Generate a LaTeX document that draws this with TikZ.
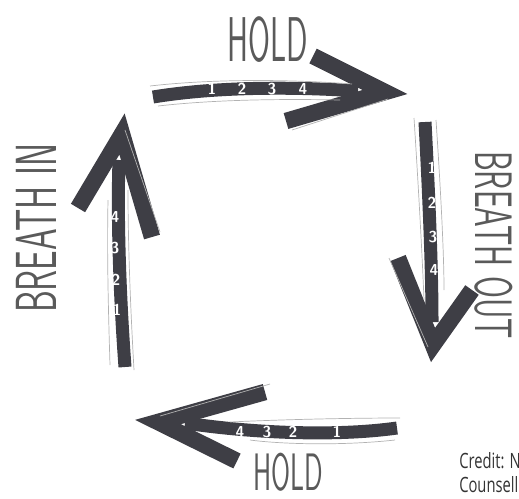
\documentclass[tikz,border=0pt]{standalone}
\usepackage{fontspec}
\newfontfamily\creditfont{Open Sans}
\usetikzlibrary{calc}
\definecolor{inkGray}{HTML}{3E3E45}
\definecolor{letterGray}{HTML}{5A5A5A}
\begin{document}
\begin{tikzpicture}[
    x=0.02cm, y=-0.02cm,
    stroke/.style={draw=inkGray, line width=0.26cm, line cap=butt},
    headstroke/.style={draw=inkGray, line width=0.33cm, line cap=butt, line join=miter},
    sketch/.style={draw=gray!60, line width=0.4pt},
    count/.style={text=white, font=\sffamily\bfseries\fontsize{9}{9}\selectfont, inner sep=0pt},
    phase/.style={text=letterGray, font=\sffamily\fontsize{36}{36}\selectfont, inner sep=0pt},
    credit/.style={text=black!80, font=\creditfont\fontsize{12}{13}\selectfont, inner sep=0pt, anchor=west, xscale=0.7}
]
    \useasboundingbox (0,0) rectangle (519,498);

    % top arrow
    \coordinate (hTail) at (153,97);
    \coordinate (hEnd) at (358,91);
    \coordinate (hTip) at (385,92);
    \coordinate (hUp) at (313,56);
    \coordinate (hLow) at (286,121);
    \draw[stroke] (hTail) .. controls (220,86) and (300,87) .. (hEnd);
    \draw[headstroke] (hUp) -- (hTip) -- (hLow);
    \draw[sketch] (150,86) .. controls (220,78) and (300,80) .. (352,84);
    \draw[sketch] (158,106) .. controls (220,99) and (290,99) .. (340,100);
    \draw[sketch] (292,130) -- (388,99);
    \node[count] (h1) at (212,89) {1};
    \node[count] (h2) at (242,89) {2};
    \node[count] (h3) at (272,89) {3};
    \node[count] (h4) at (303,89) {4};
    \node[phase, xscale=0.5] (holdTop) at (268,40) {HOLD};

    % right arrow
    \coordinate (oTail) at (425,122);
    \coordinate (oEnd) at (432,322);
    \coordinate (oTip) at (433,345);
    \coordinate (oLeft) at (398,258);
    \coordinate (oRight) at (472,290);
    \draw[stroke] (oTail) .. controls (428,180) and (432,260) .. (oEnd);
    \draw[headstroke] (oLeft) -- (oTip) -- (oRight);
    \draw[sketch] (414,118) .. controls (418,180) and (422,250) .. (424,300);
    \draw[sketch] (436,120) .. controls (440,180) and (444,250) .. (444,290);
    \draw[sketch] (389,258) -- (428,347);
    \node[count] (o1) at (432,168) {1};
    \node[count] (o2) at (432,203) {2};
    \node[count] (o3) at (433,237) {3};
    \node[count] (o4) at (434,270) {4};
    \node[phase, rotate=-90, xscale=0.6, font=\sffamily\fontsize{30}{30}\selectfont] (breathOut) at (494,245) {BREATH OUT};

    % bottom arrow
    \coordinate (lTail) at (397,428);
    \coordinate (lEnd) at (185,423);
    \coordinate (lTip) at (158,422);
    \coordinate (lUp) at (265,392);
    \coordinate (lLow) at (237,461);
    \draw[stroke] (lTail) .. controls (340,436) and (260,434) .. (lEnd);
    \draw[headstroke] (lUp) -- (lTip) -- (lLow);
    \draw[sketch] (400,418) .. controls (340,418) and (270,420) .. (230,422);
    \draw[sketch] (395,440) .. controls (340,446) and (280,444) .. (250,440);
    \draw[sketch] (270,384) -- (160,416);
    \node[count] (l4) at (240,432) {4};
    \node[count] (l3) at (267,432) {3};
    \node[count] (l2) at (293,432) {2};
    \node[count] (l1) at (337,432) {1};
    \node[phase, xscale=0.52, font=\sffamily\fontsize{30}{30}\selectfont] (holdBottom) at (288,472) {HOLD};

    % left arrow
    \coordinate (iTail) at (125,367);
    \coordinate (iEnd) at (119,160);
    \coordinate (iTip) at (122,134);
    \coordinate (iLeft) at (78,208);
    \coordinate (iRight) at (152,237);
    \draw[stroke] (iTail) .. controls (120,300) and (117,220) .. (iEnd);
    \draw[headstroke] (iLeft) -- (iTip) -- (iRight);
    \draw[sketch] (134,370) .. controls (130,300) and (128,240) .. (128,190);
    \draw[sketch] (110,365) .. controls (108,300) and (107,250) .. (108,200);
    \draw[sketch] (125,130) -- (160,232);
    \node[count] (i4) at (115,217) {4};
    \node[count] (i3) at (115,248) {3};
    \node[count] (i2) at (116,280) {2};
    \node[count] (i1) at (117,310) {1};
    \node[phase, rotate=90, xscale=0.6, font=\sffamily\fontsize{33}{33}\selectfont] (breathIn) at (36,228) {BREATH IN};

    % credit
    \node[credit] (creditA) at (459,461) {Credit: N};
    \node[credit] (creditB) at (459,485) {Counsell};
\end{tikzpicture}
\end{document}
